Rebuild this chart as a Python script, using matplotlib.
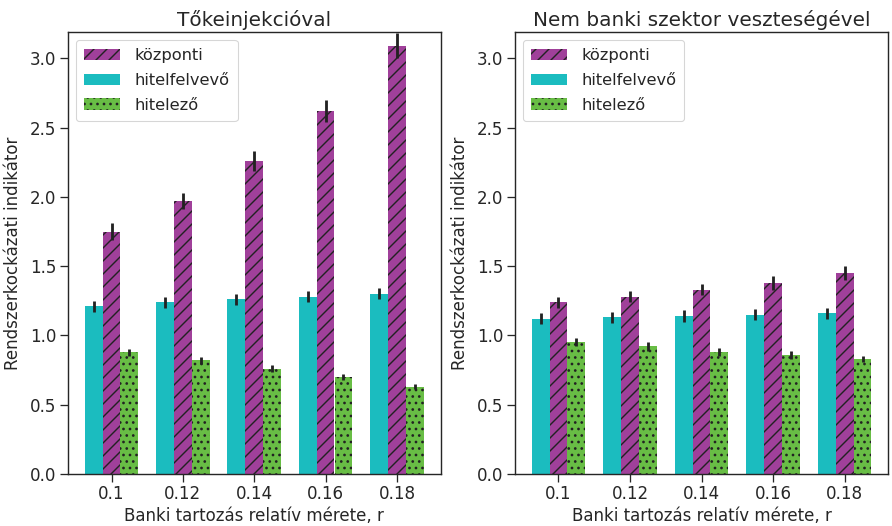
import numpy as np
import matplotlib
matplotlib.use("Agg")
import matplotlib.pyplot as plt
import seaborn as sns

r_labels = ["0.1", "0.12", "0.14", "0.16", "0.18"]
titles = ["Tőkeinjekcióval", "Nem banki szektor veszteségével"]

# Tőkeinjekcióval
cap_kozponti = [1.75, 1.97, 2.26, 2.62, 3.09]
cap_kozponti_err = [0.06, 0.06, 0.07, 0.08, 0.09]
cap_felvevo = [1.21, 1.24, 1.26, 1.28, 1.30]
cap_felvevo_err = [0.04, 0.04, 0.04, 0.04, 0.04]
cap_hitelezo = [0.88, 0.82, 0.76, 0.70, 0.63]
cap_hitelezo_err = [0.025, 0.025, 0.025, 0.02, 0.02]

# Nem banki szektor veszteségével
loss_kozponti = [1.24, 1.28, 1.33, 1.38, 1.45]
loss_kozponti_err = [0.04, 0.04, 0.04, 0.05, 0.05]
loss_felvevo = [1.12, 1.13, 1.14, 1.15, 1.16]
loss_felvevo_err = [0.04, 0.04, 0.04, 0.04, 0.04]
loss_hitelezo = [0.95, 0.92, 0.88, 0.86, 0.83]
loss_hitelezo_err = [0.03, 0.03, 0.03, 0.03, 0.025]

sns.set_style("ticks")
plt.rcParams["font.family"] = ["DejaVu Sans"]
plt.rcParams["hatch.linewidth"] = 1.3

dpi = 78
fig = plt.figure(figsize=(892 / dpi, 526 / dpi), dpi=dpi)
ax1 = fig.add_axes([0.076, 0.099, 0.418, 0.840])
ax2 = fig.add_axes([0.577, 0.099, 0.419, 0.840])

c_kozp = "#a0409a"
c_felv = "#1bbcbf"
c_hit = "#68bd45"
err_kw = dict(ecolor="#222222", elinewidth=2.6, capsize=0)

data = [
    (cap_kozponti, cap_kozponti_err, cap_felvevo, cap_felvevo_err, cap_hitelezo, cap_hitelezo_err),
    (loss_kozponti, loss_kozponti_err, loss_felvevo, loss_felvevo_err, loss_hitelezo, loss_hitelezo_err),
]

x = np.arange(len(r_labels))
w = 0.25
for ax, title, d in zip([ax1, ax2], titles, data):
    kz, kze, fv, fve, ht, hte = d
    ax.bar(x, kz, w, yerr=kze, color=c_kozp, hatch="//", edgecolor="#222222",
           linewidth=0, label="központi", error_kw=err_kw, zorder=2)
    ax.bar(x - w, fv, w, yerr=fve, color=c_felv, linewidth=0,
           label="hitelfelvevő", error_kw=err_kw, zorder=2)
    ax.bar(x + w, ht, w, yerr=hte, color=c_hit, hatch="..", edgecolor="#222222",
           linewidth=0, label="hitelező", error_kw=err_kw, zorder=2)
    ax.set_xticks(x)
    ax.set_xticklabels(r_labels)
    ax.set_ylim(0, 3.19)
    ax.set_yticks([0, 0.5, 1.0, 1.5, 2.0, 2.5, 3.0])
    ax.tick_params(labelsize=15.5, length=7, width=1.2, colors="#262626")
    for s in ax.spines.values():
        s.set_linewidth(1.3)
        s.set_color("#262626")
    ax.set_title(title, fontsize=18.5, color="#262626", pad=6)
    ax.set_xlabel("Banki tartozás relatív mérete, r", fontsize=15.3, labelpad=3, color="#262626")
    ax.set_ylabel("Rendszerkockázati indikátor", fontsize=15.3, labelpad=7, color="#262626")
    ax.legend(loc="upper left", fontsize=15, handlelength=2.2, borderpad=0.5,
              labelspacing=0.6, handletextpad=0.9, labelcolor="#262626")

fig.savefig("out.png", dpi=dpi)
